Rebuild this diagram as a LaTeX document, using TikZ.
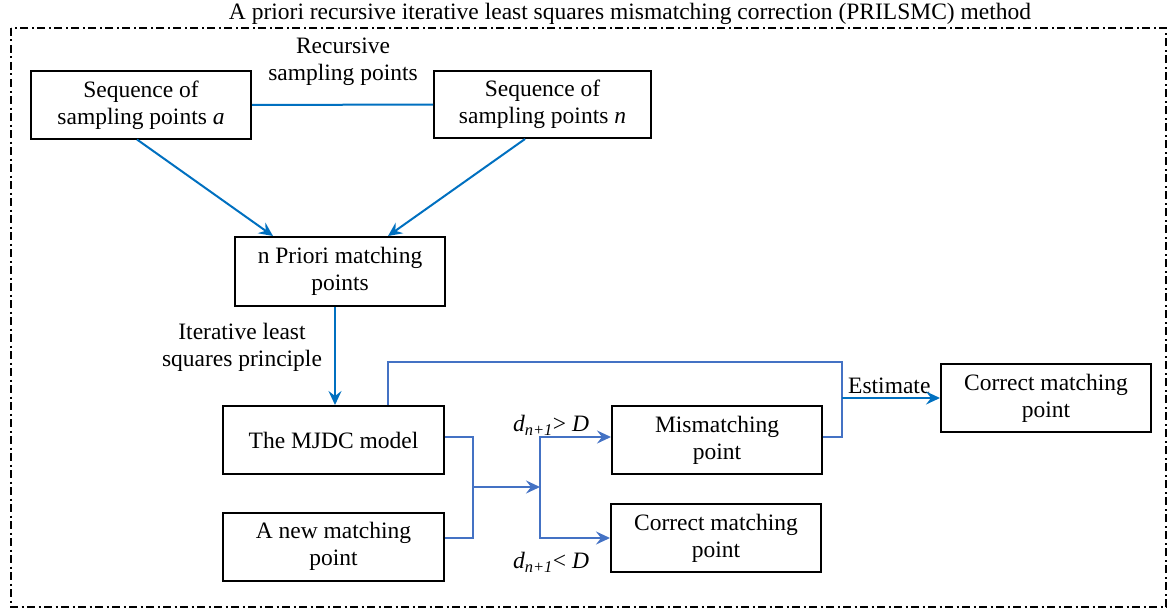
\documentclass[tikz,border=0pt]{standalone}
\usepackage{fontspec}
\setmainfont{Liberation Serif}
\usetikzlibrary{arrows.meta,positioning}
\definecolor{blueA}{RGB}{0,112,192}
\definecolor{blueB}{RGB}{68,114,196}
\tikzset{
  box/.style={draw=black,line width=2pt,align=center,inner sep=0pt,
    font=\fontsize{23.5}{27}\selectfont},
  lbl/.style={align=center,inner sep=0pt,font=\fontsize{23.5}{27}\selectfont},
  conA/.style={draw=blueA,line width=2pt},
  conB/.style={draw=blueB,line width=2.2pt},
  tip/.style={-{Stealth[length=14pt,width=13pt,inset=5pt]}},
}
\newcommand{\dvar}[1]{\textit{d}\textsubscript{\textit{n+1}}#1 \textit{D}}
\begin{document}
\begin{tikzpicture}[x=1pt,y=-1pt]
\useasboundingbox (0,0) rectangle (1167,610);
% frame
\draw[line width=2pt,dash pattern=on 8pt off 3.5pt on 2pt off 3.5pt] (11,28) rectangle (1166,607);
\node[lbl] (title) at (630,14) {A priori recursive iterative least squares mismatching correction (PRILSMC) method};
% boxes
\node[box,minimum width=220pt,minimum height=67pt] (a) at (141,105) {Sequence of\\sampling points \textit{a}};
\node[box,minimum width=217pt,minimum height=67pt] (n) at (542.5,104.5) {Sequence of\\sampling points \textit{n}};
\node[box,minimum width=210pt,minimum height=69pt] (p) at (340,271.5) {n Priori matching\\points};
\node[box,minimum width=221pt,minimum height=68pt] (m) at (333.5,440) {The MJDC model};
\node[box,minimum width=221pt,minimum height=68pt] (nw) at (333.5,546.5) {A new matching\\point};
\node[box,minimum width=210pt,minimum height=68pt] (mis) at (717,440) {Mismatching\\point};
\node[box,minimum width=210pt,minimum height=68pt] (c2) at (716,538) {Correct matching\\point};
\node[box,minimum width=210pt,minimum height=68pt] (c1) at (1046,398) {Correct matching\\point};
% labels
\node[lbl] (rl) at (343,62) {Recursive\\sampling points};
\node[lbl] (il) at (242,347) {Iterative least\\squares principle};
\node[lbl,anchor=south west] (est) at (848,394) {Estimate};
\node[lbl] (dg) at (551,425) {\dvar{>}};
\node[lbl] (dl) at (551,562) {\dvar{<}};
% connectors
\draw[conA] (a.east) -- (n.west);
\draw[conA,tip] ([xshift=-4pt]a.south) -- ([xshift=-67pt]p.north);
\draw[conA,tip] ([xshift=-17.5pt]n.south) -- ([xshift=48pt]p.north);
\draw[conA,tip] ([xshift=-5pt]p.south) -- ([xshift=-5pt]p.south |- m.north);
\coordinate (fb) at (842,362);
\coordinate (e0) at (842,398);
\draw[conB] ([xshift=54.5pt]m.north) |- (fb) |- ([yshift=3pt]mis.east);
\draw[conA,tip] (e0) -- (c1.west);
\coordinate (j1) at (473,487);
\coordinate (j2) at (540,487);
\draw[conB] ([yshift=3pt]m.east) -| (j1) |- ([yshift=8.5pt]nw.east);
\draw[conB,tip] (j1) -- (j2);
\draw[conB,tip] (j2) |- ([yshift=3pt]mis.west);
\draw[conB,tip] (j2) |- (c2.west);
\end{tikzpicture}
\end{document}
